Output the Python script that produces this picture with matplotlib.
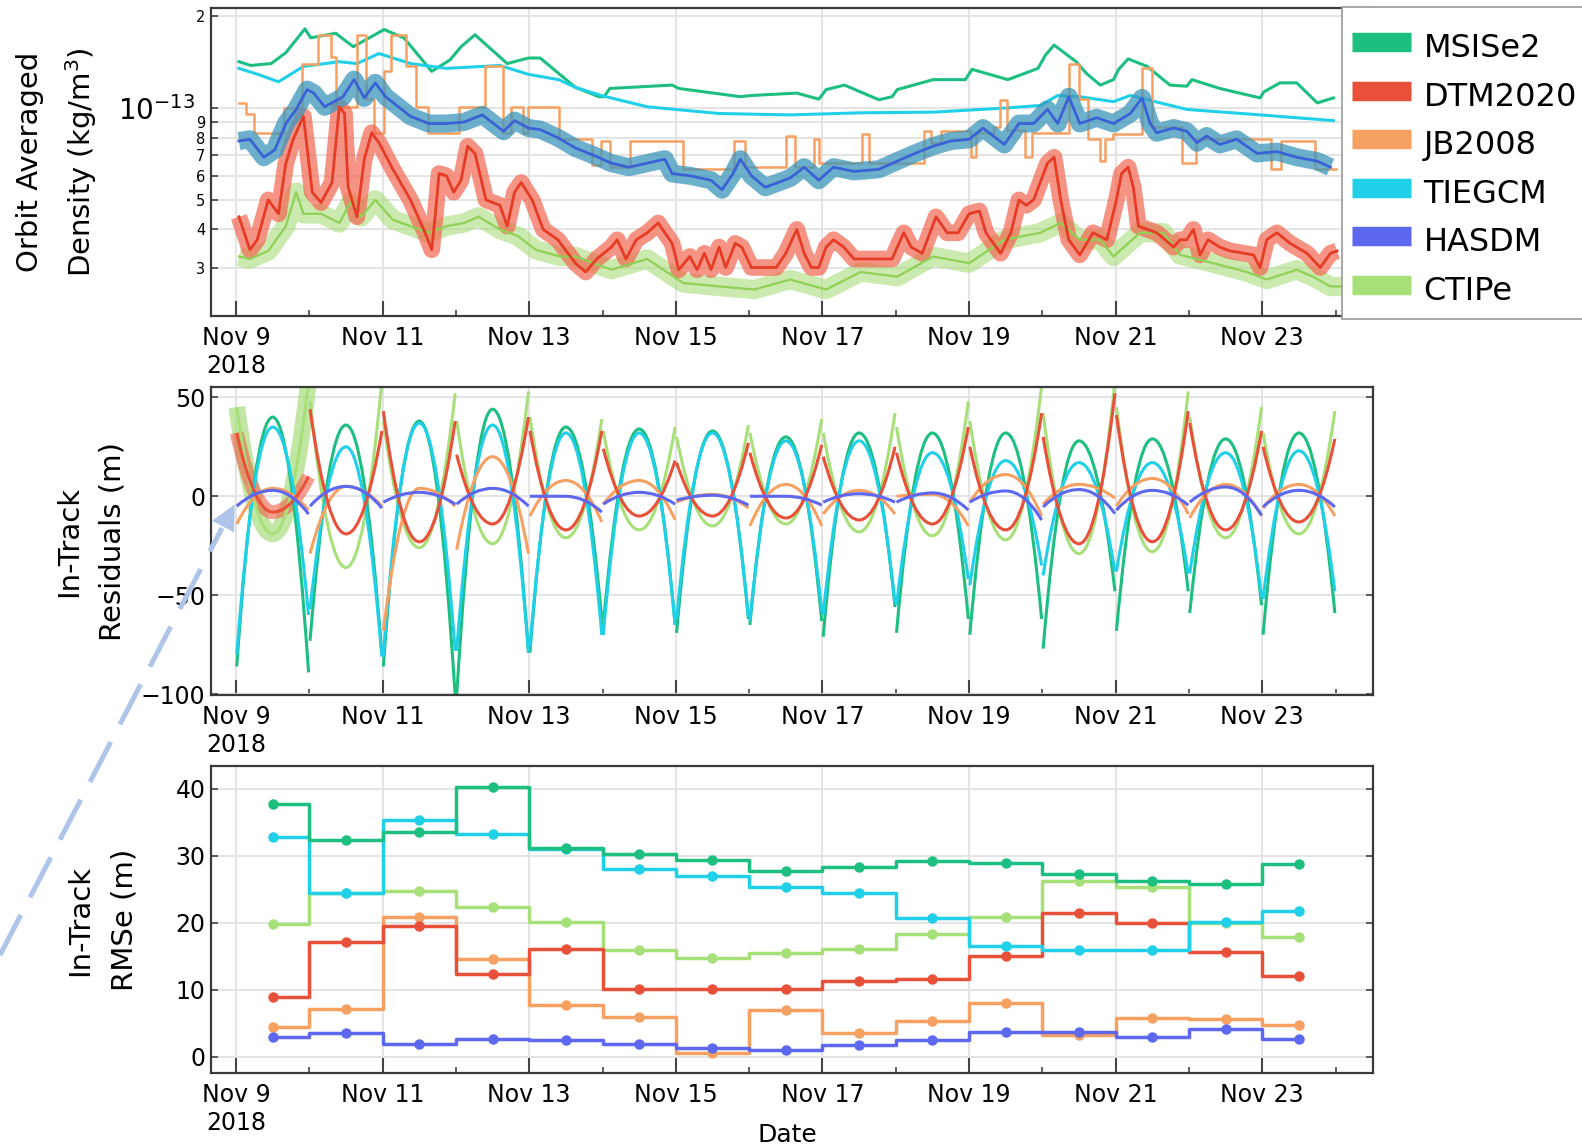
import numpy as np
import matplotlib
matplotlib.use("Agg")
from matplotlib import pyplot as plt
import matplotlib.dates as mdates
from matplotlib.ticker import FixedLocator, FuncFormatter
from matplotlib.lines import Line2D
from matplotlib.patches import FancyArrowPatch, PathPatch
from matplotlib.path import Path
from datetime import datetime

W, H = 1582, 1148

models = ["MSISe2", "DTM2020", "JB2008", "TIEGCM", "HASDM", "CTIPe"]
colors = {
    "MSISe2": "#1cbf80",
    "DTM2020": "#e9503a",
    "JB2008": "#f6a062",
    "TIEGCM": "#20cfe8",
    "HASDM": "#5d67f0",
    "CTIPe": "#a7df79",
}

# --- top panel: orbit averaged density (days after 2018-11-09, units of 1e-13 kg/m^3)
msis_top = [(0.04, 1.42), (0.2, 1.38), (0.48, 1.40), (0.68, 1.52), (0.94, 1.82), (1.02, 1.70),
            (1.36, 1.76), (1.6, 1.59), (2.02, 1.81), (2.29, 1.70), (2.67, 1.32), (2.92, 1.44),
            (3.07, 1.59), (3.26, 1.74), (3.70, 1.40), (3.99, 1.46), (4.15, 1.46), (4.4, 1.30),
            (4.63, 1.17), (4.95, 1.09), (5.02, 1.09), (5.1, 1.16), (5.95, 1.19), (6.04, 1.16),
            (6.88, 1.09), (7.03, 1.10), (7.65, 1.12), (7.95, 1.07), (8.05, 1.15), (8.3, 1.19),
            (8.77, 1.065), (8.95, 1.09), (9.02, 1.15), (9.51, 1.24), (9.95, 1.24), (10.04, 1.34),
            (10.53, 1.24), (10.94, 1.35), (11.04, 1.49), (11.16, 1.61), (11.46, 1.42), (11.6, 1.30),
            (11.79, 1.19), (11.97, 1.24), (12.04, 1.34), (12.17, 1.45), (12.43, 1.37), (12.74, 1.19),
            (12.97, 1.18), (13.04, 1.24), (13.42, 1.16), (13.97, 1.08), (14.02, 1.13), (14.24, 1.21),
            (14.47, 1.21), (14.75, 1.04), (14.97, 1.08)]
tiegcm_top = [(0.04, 1.35), (0.3, 1.29), (0.58, 1.22), (0.92, 1.37), (1.41, 1.42), (1.65, 1.40),
              (1.95, 1.51), (2.38, 1.40), (2.87, 1.35), (3.6, 1.38), (3.99, 1.29), (4.4, 1.24),
              (4.63, 1.17), (4.98, 1.10), (5.61, 1.01), (6.59, 0.96), (7.56, 0.95), (8.52, 0.965),
              (9.51, 0.97), (10.48, 1.0), (10.97, 1.02), (11.21, 1.10), (11.51, 1.09), (11.97, 1.05),
              (12.2, 1.10), (12.97, 0.99), (13.97, 0.95), (14.97, 0.91)]
jb_top = [(0.04, 1.04), (0.14, 0.96), (0.24, 0.83), (0.66, 1.00), (0.90, 1.40), (1.12, 1.74),
          (1.30, 1.47), (1.36, 1.01), (1.65, 1.74), (1.78, 1.07), (1.88, 0.83), (2.02, 1.32),
          (2.12, 1.74), (2.32, 1.37), (2.46, 1.01), (2.62, 0.83), (3.04, 1.01), (3.40, 1.37),
          (3.64, 0.83), (3.75, 1.01), (3.92, 0.83), (3.98, 1.01), (4.40, 0.79), (4.86, 0.65),
          (4.98, 0.78), (5.10, 0.64), (5.38, 0.78), (6.10, 0.63), (6.80, 0.78), (6.95, 0.64),
          (7.50, 0.81), (7.62, 0.64), (7.88, 0.79), (7.95, 0.66), (8.54, 0.82), (8.64, 0.66),
          (9.38, 0.84), (9.48, 0.77), (9.62, 0.84), (10.02, 0.69), (10.10, 0.83), (10.34, 0.87),
          (10.42, 1.065), (10.52, 0.85), (10.76, 0.69), (10.86, 0.83), (11.36, 1.40), (11.50, 1.07),
          (11.62, 0.79), (11.78, 0.67), (11.86, 0.79), (11.96, 0.82), (12.36, 1.35), (12.50, 0.87),
          (12.90, 0.66), (13.10, 0.79), (14.12, 0.63), (14.26, 0.78), (14.72, 0.63), (15.0, 0.63)]
hasdm_top = [(0.04, 0.78), (0.19, 0.79), (0.38, 0.69), (0.53, 0.73), (0.68, 0.89), (0.82, 0.99),
             (0.97, 1.15), (1.06, 1.12), (1.21, 1.01), (1.46, 1.09), (1.61, 1.24), (1.75, 1.08),
             (1.90, 1.21), (2.04, 1.09), (2.38, 0.94), (2.63, 0.89), (2.87, 0.89), (3.11, 0.90),
             (3.36, 0.95), (3.65, 0.84), (3.8, 0.91), (3.99, 0.86), (4.15, 0.85), (4.39, 0.80),
             (4.63, 0.74), (4.88, 0.70), (5.12, 0.66), (5.36, 0.64), (5.61, 0.66), (5.85, 0.68),
             (5.95, 0.61), (6.19, 0.60), (6.48, 0.58), (6.63, 0.54), (6.78, 0.61), (6.88, 0.68),
             (7.03, 0.60), (7.22, 0.55), (7.56, 0.59), (7.75, 0.64), (7.95, 0.58), (8.15, 0.64),
             (8.43, 0.62), (8.77, 0.63), (9.02, 0.67), (9.26, 0.71), (9.51, 0.75), (9.75, 0.78),
             (10.0, 0.79), (10.19, 0.86), (10.48, 0.76), (10.68, 0.89), (10.88, 0.89), (11.07, 0.99),
             (11.21, 0.89), (11.36, 1.09), (11.51, 0.89), (11.74, 0.93), (11.97, 0.89), (12.2, 0.96),
             (12.36, 1.08), (12.47, 0.89), (12.56, 0.83), (12.79, 0.86), (12.97, 0.84), (13.11, 0.77),
             (13.24, 0.81), (13.42, 0.76), (13.65, 0.79), (13.93, 0.71), (14.2, 0.72), (14.47, 0.69),
             (14.75, 0.67), (14.93, 0.64)]
dtm_top = [(0.04, 0.44), (0.19, 0.343), (0.29, 0.37), (0.44, 0.50), (0.58, 0.45), (0.68, 0.66),
           (0.78, 0.79), (0.92, 0.94), (1.04, 0.53), (1.16, 0.49), (1.31, 0.57), (1.41, 1.01),
           (1.48, 0.96), (1.53, 0.55), (1.65, 0.44), (1.75, 0.68), (1.85, 0.83), (1.95, 0.77),
           (2.14, 0.63), (2.38, 0.50), (2.58, 0.39), (2.67, 0.343), (2.72, 0.45), (2.77, 0.61),
           (2.87, 0.60), (2.97, 0.53), (3.07, 0.58), (3.16, 0.75), (3.26, 0.71), (3.41, 0.50),
           (3.60, 0.48), (3.70, 0.41), (3.80, 0.53), (3.89, 0.57), (4.04, 0.50), (4.19, 0.40),
           (4.39, 0.37), (4.63, 0.31), (4.77, 0.29), (4.92, 0.32), (5.12, 0.35), (5.2, 0.37),
           (5.32, 0.32), (5.46, 0.37), (5.61, 0.39), (5.76, 0.42), (5.85, 0.39), (5.95, 0.36),
           (6.04, 0.295), (6.19, 0.326), (6.29, 0.295), (6.39, 0.334), (6.48, 0.295), (6.59, 0.35),
           (6.68, 0.30), (6.81, 0.36), (6.9, 0.35), (7.03, 0.30), (7.37, 0.30), (7.5, 0.334),
           (7.65, 0.40), (7.75, 0.334), (7.85, 0.30), (7.95, 0.30), (8.05, 0.35), (8.15, 0.37),
           (8.29, 0.35), (8.43, 0.32), (8.77, 0.32), (8.95, 0.32), (9.02, 0.35), (9.11, 0.39),
           (9.21, 0.35), (9.36, 0.334), (9.55, 0.44), (9.7, 0.39), (9.85, 0.39), (10.0, 0.45),
           (10.14, 0.46), (10.23, 0.39), (10.43, 0.334), (10.57, 0.39), (10.68, 0.50), (10.78, 0.48),
           (10.88, 0.50), (11.07, 0.66), (11.16, 0.69), (11.25, 0.50), (11.36, 0.37), (11.51, 0.33),
           (11.69, 0.39), (11.88, 0.37), (12.01, 0.50), (12.08, 0.61), (12.17, 0.64), (12.24, 0.55),
           (12.31, 0.41), (12.56, 0.39), (12.79, 0.35), (12.88, 0.37), (12.97, 0.37), (13.06, 0.40),
           (13.15, 0.33), (13.26, 0.37), (13.42, 0.35), (13.56, 0.34), (13.88, 0.33), (13.97, 0.30),
           (14.06, 0.37), (14.2, 0.39), (14.38, 0.36), (14.61, 0.334), (14.79, 0.30), (14.93, 0.334),
           (15.02, 0.34)]
ctipe_top = [(0.04, 0.326), (0.19, 0.32), (0.44, 0.34), (0.68, 0.41), (0.82, 0.53), (0.92, 0.45),
             (1.16, 0.45), (1.41, 0.42), (1.56, 0.49), (1.71, 0.44), (1.90, 0.50), (2.14, 0.43),
             (2.63, 0.39), (2.87, 0.41), (3.11, 0.42), (3.31, 0.44), (3.60, 0.40), (3.85, 0.38),
             (4.09, 0.343), (4.42, 0.326), (4.63, 0.326), (5.12, 0.295), (5.61, 0.32), (6.1, 0.267),
             (6.59, 0.26), (7.07, 0.254), (7.56, 0.274), (8.05, 0.254), (8.52, 0.29), (9.02, 0.28),
             (9.51, 0.326), (10.0, 0.31), (10.48, 0.37), (10.97, 0.39), (11.25, 0.42), (11.51, 0.37),
             (11.79, 0.37), (11.97, 0.326), (12.33, 0.39), (12.65, 0.39), (12.88, 0.33), (13.33, 0.31),
             (13.79, 0.29), (14.06, 0.274), (14.47, 0.295), (14.69, 0.28), (14.93, 0.26), (15.2, 0.26)]

# --- middle panel: in-track residuals (m), one row per daily arc: [start, midday, end]
msis_res = [[-86, 40, -89], [-73, 36, -80], [-86, 38, -101], [-101, 44, -79], [-79, 35, -62],
            [-65, 34, -65], [-69, 33, -62], [-65, 30, -63], [-71, 32, -56], [-69, 32, -62],
            [-70, 32, -62], [-77, 28, -48], [-68, 29, -48], [-59, 29, -55], [-70, 32, -59]]
tiegcm_res = [[-80, 35, -60], [-57, 25, -81], [-81, 37, -78], [-78, 36, -79], [-76, 32, -70],
              [-70, 32, -65], [-62, 32, -61], [-63, 28, -58], [-60, 28, -54], [-55, 22, -42],
              [-45, 18, -35], [-40, 17, -38], [-38, 17, -39], [-39, 22, -51], [-52, 23, -48]]
dtm_res = [[32, -8, 10], [44, -19, 33], [43, -23, 38], [21, -14, 40], [33, -17, 33],
           [24, -10, 18], [17, -10, 27], [22, -11, 26], [20, -12, 25], [22, -14, 35],
           [25, -17, 42], [30, -24, 52], [41, -23, 43], [37, -17, 33], [25, -13, 29]]
ctipe_res = [[45, -19, 58], [48, -36, 58], [38, -26, 52], [38, -24, 53], [40, -21, 39],
             [33, -17, 35], [30, -15, 36], [32, -14, 39], [32, -18, 42], [35, -20, 48],
             [38, -22, 56], [42, -29, 58], [45, -28, 53], [40, -21, 45], [32, -19, 43]]
jb_res = [[-14, 4, -7], [-29, 5, -5], [-68, 4, -5], [-27, 20, -29], [-10, 8, -13],
          [-4, 8, -12], [-3, 1, -6], [-15, 6, -15], [-9, 3, -9], [0, 1, -15],
          [-3, 11, -10], [-4, 6, -1], [-5, 9, -9], [-11, 6, -10], [-6, 6, -10]]
hasdm_res = [[-5, 3, -9], [-5, 5, -6], [-3, 2, -4], [-4, 4, -5], [0, 0, -8],
             [-4, 2, -4], [-2, 0.5, -4.5], [0, 0, -4.5], [-3, 1.3, -3], [-3, 1.7, -7],
             [-3, 2.7, -12], [-5.4, 3.4, -8.8], [-7, 3, -4.5], [-3, 4.7, -9.6], [-5.4, 3, -5.4]]

# --- bottom panel: daily in-track RMSe (m), plotted at noon of each day
rmse_days = [d + 0.5 for d in range(15)]
rmse_msis = [37.8, 32.4, 33.6, 40.3, 31.2, 30.3, 29.4, 27.8, 28.4, 29.3, 28.9, 27.3, 26.3, 25.8, 28.8]
rmse_tiegcm = [32.8, 24.5, 35.4, 33.2, 31.0, 28.1, 27.0, 25.3, 24.5, 20.7, 16.5, 16.0, 16.0, 20.2, 21.7]
rmse_ctipe = [19.8, 24.4, 24.8, 22.4, 20.1, 15.9, 14.7, 15.5, 16.1, 18.3, 20.9, 26.3, 25.3, 20.0, 17.9]
rmse_dtm = [8.9, 17.2, 19.6, 12.4, 16.1, 10.1, 10.1, 10.1, 11.3, 11.6, 15.0, 21.4, 20.0, 15.7, 12.1]
rmse_jb = [4.5, 7.1, 20.9, 14.6, 7.7, 5.9, 0.6, 7.0, 3.6, 5.3, 8.0, 3.3, 5.8, 5.7, 4.7]
rmse_hasdm = [3.0, 3.5, 1.9, 2.6, 2.5, 2.0, 1.4, 1.1, 1.8, 2.5, 3.7, 3.7, 3.0, 4.1, 2.7]

base = mdates.date2num(datetime(2018, 11, 9))


def to_x(days):
    return base + np.asarray(days, dtype=float)


def split(pairs):
    arr = np.array(pairs, dtype=float)
    return to_x(arr[:, 0]), arr[:, 1]


def arc_path(rows):
    # each day's arc: rounded at midday, sharp at the day boundaries
    verts, codes = [], []
    for day, (a, m, b) in enumerate(rows):
        t = to_x([day + 0.01, day + 0.25, day + 0.5, day + 0.75, day + 0.99])
        verts += [(t[0], a), (t[1], m), (t[2], m), (t[3], m), (t[4], b)]
        codes += [Path.MOVETO, Path.CURVE3, Path.CURVE3, Path.CURVE3, Path.CURVE3]
    return Path(verts, codes)


def date_label(x, pos):
    d = mdates.num2date(x)
    s = f"Nov {d.day}"
    if d.day == 9:
        s += "\n2018"
    return s


plt.rcParams["font.family"] = ["DejaVu Sans"]
fig = plt.figure(figsize=(W / 100, H / 100), dpi=100)

left, width = 211 / W, 1162 / W
ax1 = fig.add_axes([left, 1 - 316 / H, width, 308 / H])
ax2 = fig.add_axes([left, 1 - 695 / H, width, 308 / H])
ax3 = fig.add_axes([left, 1 - 1073 / H, width, 307 / H])

for ax in (ax1, ax2, ax3):
    ax.set_xlim(base - 0.341, base + 15.51)
    ax.xaxis.set_major_locator(FixedLocator(list(base + np.arange(0, 16, 2))))
    ax.xaxis.set_minor_locator(FixedLocator(list(base + np.arange(1, 16, 2))))
    ax.xaxis.set_major_formatter(FuncFormatter(date_label))
    ax.tick_params(axis="x", which="major", direction="in", length=11, width=1.5,
                   color="#444444", labelsize=17, pad=7)
    ax.tick_params(axis="x", which="minor", direction="in", length=4.5, width=1.2,
                   color="#444444")
    ax.tick_params(axis="y", which="both", direction="in", length=5, width=1.2,
                   color="#444444", labelsize=17, pad=4, right=True)
    ax.grid(True, which="major", axis="x", color="#e2e2e2", lw=1.3)
    ax.set_axisbelow(True)
    for sp in ax.spines.values():
        sp.set_linewidth(1.6)
        sp.set_color("#3a3a3a")

# top panel
ax1.set_yscale("log")
ax1.set_ylim(2.08e-14, 2.13e-13)
ax1.yaxis.set_major_locator(FixedLocator([1e-13]))
ax1.yaxis.set_major_formatter(FuncFormatter(lambda v, p: r"$10^{-13}$"))
minor_vals = [3e-14, 4e-14, 5e-14, 6e-14, 7e-14, 8e-14, 9e-14, 2e-13]
ax1.yaxis.set_minor_locator(FixedLocator(minor_vals))
ax1.yaxis.set_minor_formatter(FuncFormatter(lambda v, p: f"{v / 10 ** np.floor(np.log10(v) + 1e-9):.0f}"))
ax1.tick_params(axis="y", which="major", labelsize=20, pad=11.5)
ax1.tick_params(axis="y", which="minor", labelsize=10.5)
ax1.grid(True, which="both", axis="y", color="#e2e2e2", lw=1.3)

x, y = split(msis_top)
ax1.plot(x, y * 1e-13, color=colors["MSISe2"], lw=2.2)
x, y = split(tiegcm_top)
ax1.plot(x, y * 1e-13, color=colors["TIEGCM"], lw=2.2)
x, y = split(jb_top)
ax1.plot(x, y * 1e-13, color=colors["JB2008"], lw=1.8, drawstyle="steps-post")
xc, yc = split(ctipe_top)
ax1.plot(xc, yc * 1e-13, color="#a9dc7c", lw=14, alpha=0.6, solid_capstyle="butt")
xd, yd = split(dtm_top)
ax1.plot(xd, yd * 1e-13, color="#f26650", lw=12, alpha=0.7, solid_capstyle="butt")
xh, yh = split(hasdm_top)
ax1.plot(xh, yh * 1e-13, color="#3c96bb", lw=13, alpha=0.75, solid_capstyle="butt")
ax1.plot(xc, yc * 1e-13, color="#8fd055", lw=1.6)
ax1.plot(xd, yd * 1e-13, color="#e63b25", lw=2.0)
ax1.plot(xh, yh * 1e-13, color="#3b62d4", lw=2.0)

# middle panel
ax2.set_ylim(-100.4, 55.2)
ax2.set_yticks([-100, -50, 0, 50])
ax2.grid(True, which="major", axis="y", color="#e2e2e2", lw=1.3)
ax2.add_patch(PathPatch(arc_path(ctipe_res[:1]), fill=False, edgecolor="#a9dc7c",
                        lw=12, alpha=0.7, capstyle="butt"))
ax2.add_patch(PathPatch(arc_path(dtm_res[:1]), fill=False, edgecolor="#f06048",
                        lw=10, alpha=0.6, capstyle="butt"))
for key, rows in [("CTIPe", ctipe_res), ("MSISe2", msis_res), ("TIEGCM", tiegcm_res),
                  ("JB2008", jb_res), ("DTM2020", dtm_res), ("HASDM", hasdm_res)]:
    ax2.add_patch(PathPatch(arc_path(rows), fill=False, edgecolor=colors[key], lw=2.2))

# bottom panel
ax3.set_ylim(-2.4, 43.4)
ax3.set_yticks([0, 10, 20, 30, 40])
ax3.grid(True, which="major", axis="y", color="#e2e2e2", lw=1.3)
for key, vals in [("CTIPe", rmse_ctipe), ("JB2008", rmse_jb), ("DTM2020", rmse_dtm),
                  ("TIEGCM", rmse_tiegcm), ("MSISe2", rmse_msis), ("HASDM", rmse_hasdm)]:
    ax3.step(to_x(rmse_days), vals, where="mid", color=colors[key], lw=2.5,
             marker="o", markersize=6.5)

# axis titles, one text per line
ylabels = [((30, 162), "Orbit Averaged"), ((81, 162), "Density (kg/m$^3$)"),
           ((69, 541), "In-Track"), ((112, 541), "Residuals (m)"),
           ((80, 920), "In-Track"), ((124, 920), "RMSe (m)")]
for (px, py), txt in ylabels:
    fig.text(px / W, 1 - py / H, txt, rotation=90, ha="center", va="center", fontsize=21)
fig.text(787 / W, 1 - 1135 / H, "Date", ha="center", va="center", fontsize=18)

# legend
handles = [Line2D([0], [0], color=colors[m], lw=14, solid_capstyle="butt") for m in models]
leg = fig.legend(handles, models, loc="upper left", bbox_to_anchor=(1342 / W, 1 - 7 / H),
                 bbox_transform=fig.transFigure, fontsize=23, handlelength=1.875,
                 handleheight=1.5, handletextpad=0.375, borderpad=0.3, labelspacing=0.3,
                 title=" ", title_fontsize=1,
                 borderaxespad=0, frameon=True, fancybox=False, edgecolor="#9a9a9a",
                 framealpha=1)
leg.get_frame().set_linewidth(1.2)

# dashed pointer onto the first arc
fig.add_artist(Line2D([0 / W, 222 / W], [1 - 955 / H, 1 - 528 / H], transform=fig.transFigure,
                      color="#aec4e8", lw=3.6, dashes=(9, 4)))
fig.add_artist(FancyArrowPatch((216 / W, 1 - 540 / H), (236 / W, 1 - 502 / H),
                               transform=fig.transFigure, arrowstyle="-|>",
                               mutation_scale=45, color="#aec4e8", lw=0))

fig.savefig("out.png", dpi=100)
